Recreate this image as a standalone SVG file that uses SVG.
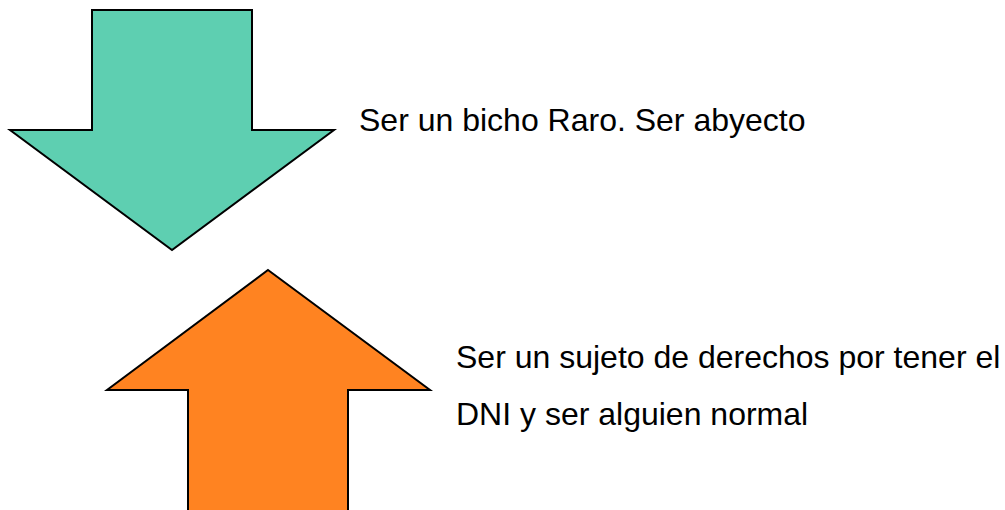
<svg xmlns="http://www.w3.org/2000/svg" width="1005" height="510" viewBox="0 0 1005 510">
<style>
.arrow{stroke:#000;stroke-width:2;stroke-linejoin:miter}
.t{font-family:"Liberation Sans",Arial,sans-serif;font-size:32px;fill:#000}
</style>
<rect width="1005" height="510" fill="#fff"/>
<g id="down-arrow">
<polygon class="arrow" fill="#5ECFB1" points="92,10 252,10 252,130 334,130 172,250 10,130 92,130"/>
</g>
<g id="up-arrow">
<polygon class="arrow" fill="#FF8321" points="268,270 430,390 348,390 348,511 188,511 188,390 107,390"/>
</g>
<g id="label-top">
<text class="t" x="359" y="131">Ser un bicho Raro. Ser abyecto</text>
</g>
<g id="label-bottom">
<text class="t" x="456" y="368">Ser un sujeto de derechos por tener el</text>
<text class="t" x="456" y="425">DNI y ser alguien normal</text>
</g>
<g id="connectors"/>
</svg>
